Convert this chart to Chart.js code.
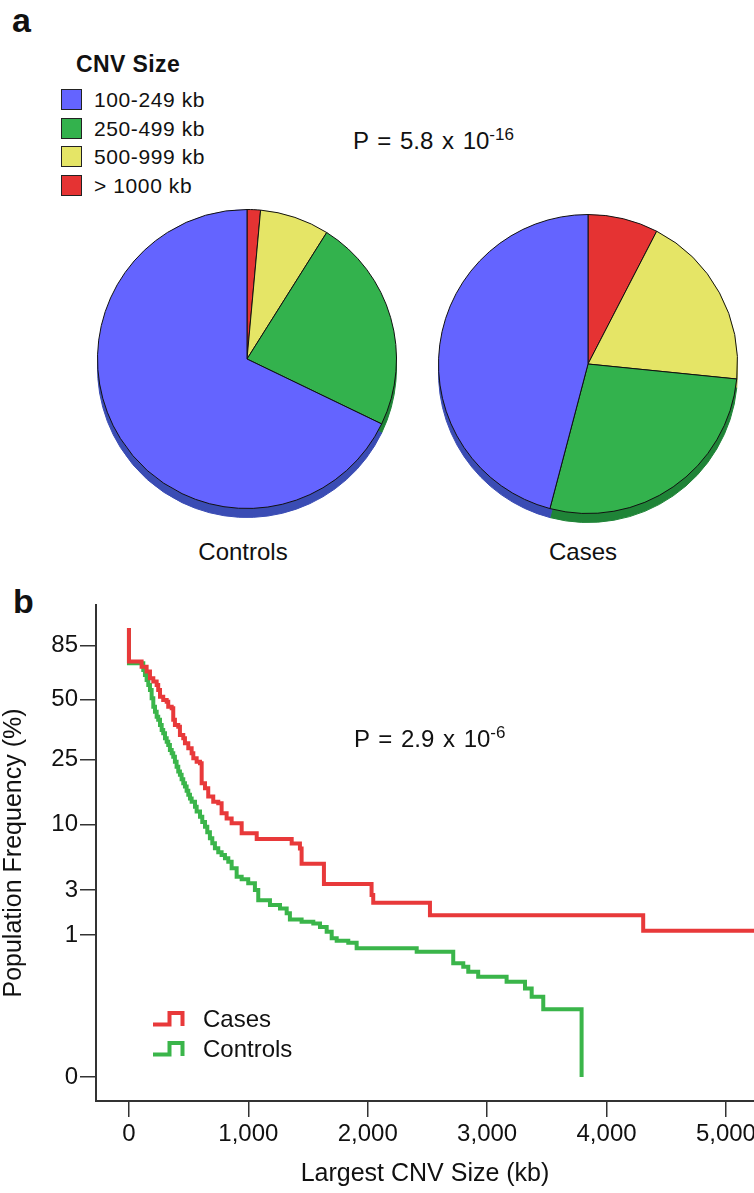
<!DOCTYPE html>
<html lang="en">
<head>
  <meta charset="UTF-8" />
  <title>CNV Size</title>
  <script src="https://cdn.jsdelivr.net/npm/chart.js"></script>
  <style>
    body {
      margin: 0;
      width: 754px;
      height: 1193px;
      position: relative;
      overflow: hidden;
      background: #fff;
      color: #111;
      font-family: "Liberation Sans", Arial, sans-serif;
    }
    .abs { position: absolute; line-height: 1; white-space: nowrap; }
    .panel { font-weight: bold; font-size: 34px; }
    .ptext { font-size: 24px; word-spacing: 2px; }
    .ptext sup { font-size: 17px; position: relative; top: -9px; vertical-align: baseline; word-spacing: 0; }
    .pie-label { font-size: 24px; width: 200px; text-align: center; }
    #size-legend .title { font-weight: bold; font-size: 23px; letter-spacing: 0.4px; margin: 0 0 13px 15px; }
    #size-legend .row { display: flex; align-items: center; height: 21px; margin-bottom: 7.6px; }
    #size-legend .box { width: 21px; height: 21px; box-sizing: border-box; border: 1px solid #222; }
    #size-legend .lbl { font-size: 21px; letter-spacing: 0.6px; margin-left: 12px; }
    .line-key { display: flex; align-items: center; height: 24px; font-size: 24px; }
    .line-key svg { margin-right: 18px; }
    canvas { position: absolute; }
  </style>
</head>
<body>
  <div class="abs panel" style="left:12px; top:3px;">a</div>
  <div class="abs panel" style="left:13px; top:584px;">b</div>

  <div id="size-legend" class="abs" style="left:61px; top:53px;">
    <div class="title">CNV Size</div>
  </div>

  <div class="abs ptext" style="left:353px; top:129px;">P = 5.8 x 10<sup>-16</sup></div>
  <canvas id="pie-controls" width="300" height="312" style="left:97px; top:209px;"></canvas>
  <canvas id="pie-cases" width="300" height="312" style="left:438px; top:214px;"></canvas>
  <div class="abs pie-label" style="left:143px; top:540px;">Controls</div>
  <div class="abs pie-label" style="left:483px; top:540px;">Cases</div>

  <canvas id="freq" width="754" height="603" style="left:0; top:590px;"></canvas>
  <div class="abs ptext" style="left:354px; top:727px;">P = 2.9 x 10<sup>-6</sup></div>
  <div id="line-legend" class="abs" style="left:152px; top:1007px;"></div>

  <script>
    // panel a: share of largest CNV per size bin (%), clockwise from 12 o'clock
    const sizeBins = ['> 1000 kb', '500-999 kb', '250-499 kb', '100-249 kb'];
    const controlsShare = [1.45, 7.5, 23.2, 67.85];
    const casesShare = [7.6, 19.0, 27.5, 45.9];

    // panel b: step curves, largest CNV size (kb) vs population frequency (%)
    const casesKb = [0, 0, 106, 148, 176, 204, 232, 245, 260, 287, 316, 329, 358, 371, 385, 413, 427, 455,
      469, 497, 525, 539, 567, 595, 609, 637, 664, 706, 748, 776, 818, 860, 944, 1070, 1363, 1432, 1446,
      1633, 2032, 2046, 2521, 4307, 5235];
    const casesFreq = [100, 73.2, 69.7, 66.4, 62.1, 60.1, 58.1, 55.2, 51.4, 49.7, 48.8, 46.2, 45.5, 40.0,
      37.8, 37.0, 33.6, 32.4, 30.5, 28.7, 27.0, 25.4, 24.3, 23.8, 18.3, 17.1, 15.2, 14.1, 13.8, 11.9, 11.0,
      10.2, 8.7, 7.9, 7.3, 6.7, 5.1, 3.41, 2.7, 2.27, 1.69, 1.13, 1.13];

    const controlsKb = [0, 0, 120, 134, 148, 162, 176, 190, 204, 218, 232, 245, 260, 274, 287, 302, 316,
      329, 343, 358, 371, 385, 399, 413, 427, 441, 455, 469, 483, 497, 511, 525, 553, 567, 595, 614, 637,
      656, 678, 698, 720, 748, 776, 804, 832, 860, 902, 944, 999, 1055, 1083, 1181, 1265, 1321, 1348,
      1446, 1544, 1600, 1656, 1698, 1740, 1837, 1907, 2410, 2716, 2800, 2842, 2925, 3163, 3317, 3373,
      3470, 3791];
    const controlsFreq = [100, 72.0, 67.5, 64.2, 61.1, 58.1, 55.2, 50.6, 46.2, 43.8, 41.4, 40.0, 37.8,
      35.7, 34.3, 32.4, 31.1, 29.9, 28.1, 27.0, 25.9, 24.3, 22.8, 21.4, 20.5, 19.3, 18.3, 17.5, 16.5, 15.6,
      14.8, 14.1, 13.1, 12.2, 11.3, 10.4, 9.65, 8.82, 7.99, 7.34, 6.73, 6.27, 5.97, 5.63, 5.28, 4.67, 3.96,
      3.76, 3.46, 3.01, 2.4, 2.15, 1.99, 1.77, 1.52, 1.43, 1.37, 1.25, 1.10, 0.91, 0.849, 0.80, 0.675,
      0.606, 0.411, 0.364, 0.302, 0.249, 0.203, 0.152, 0.102, 0.0517, 0];

    const xTicks = [0, 1000, 2000, 3000, 4000, 5000];
    const yTicks = [0, 1, 3, 10, 25, 50, 85];

    const pieColors = ['#e53333', '#e5e566', '#33b24d', '#6464ff'];
    const pieShade = ['#9e2323', '#a6a63e', '#1f8437', '#3a4cb4'];
    const redLine = '#e8393a';
    const greenLine = '#3ab54a';

    Chart.defaults.font.family = '"Liberation Sans", Arial, sans-serif';
    Chart.defaults.color = '#111';

    // html legend for the pies, same order as the printed figure
    const sizeLegend = document.getElementById('size-legend');
    sizeBins.slice().reverse().forEach((name, i) => {
      const row = document.createElement('div');
      row.className = 'row';
      row.innerHTML = '<span class="box" style="background:' + pieColors[pieColors.length - 1 - i] +
        '"></span><span class="lbl">' + name + '</span>';
      sizeLegend.appendChild(row);
    });

    // flat shadow under each slice to get the tilted-disc look
    const pieShadow = {
      id: 'pieShadow',
      beforeDatasetsDraw(chart, args, opts) {
        const ctx = chart.ctx;
        ctx.save();
        ctx.translate(0, opts.depth);
        chart.getDatasetMeta(0).data.forEach((arc, i) => {
          const o = arc.options;
          arc.options = Object.assign({}, o, { backgroundColor: opts.colors[i], borderColor: opts.colors[i] });
          arc.draw(ctx);
          arc.options = o;
        });
        ctx.restore();
      }
    };

    function makePie(id, values) {
      return new Chart(document.getElementById(id), {
        type: 'pie',
        data: {
          labels: sizeBins,
          datasets: [{
            data: values,
            backgroundColor: pieColors,
            borderColor: '#111',
            borderWidth: 1
          }]
        },
        options: {
          responsive: false,
          animation: false,
          layout: { padding: { bottom: 12 } },
          plugins: {
            legend: { display: false },
            tooltip: { enabled: false },
            pieShadow: { depth: 9, colors: pieShade }
          }
        },
        plugins: [pieShadow]
      });
    }

    makePie('pie-controls', controlsShare);
    makePie('pie-cases', casesShare);

    // y axis of panel b is spaced by the fourth root of the frequency
    class FourthRootScale extends Chart.LinearScale {
      static id = 'fourthroot';
      static defaults = {};
      fwd(v) { return Math.sign(v) * Math.pow(Math.abs(v), 0.25); }
      getPixelForValue(value) {
        const a = this.fwd(this.min), b = this.fwd(this.max);
        return this.getPixelForDecimal((this.fwd(value) - a) / (b - a));
      }
      getValueForPixel(pixel) {
        const a = this.fwd(this.min), b = this.fwd(this.max);
        const t = a + this.getDecimalForPixel(pixel) * (b - a);
        return Math.sign(t) * Math.pow(Math.abs(t), 4);
      }
    }
    Chart.register(FourthRootScale);

    const axisGrid = { drawOnChartArea: false, tickLength: 16, color: '#333', lineWidth: 1.5 };
    const axisBorder = { display: true, color: '#333', width: 2 };

    new Chart(document.getElementById('freq'), {
      type: 'line',
      data: {
        datasets: [
          {
            label: 'Cases',
            data: casesKb.map((x, i) => ({ x: x, y: casesFreq[i] })),
            borderColor: redLine,
            borderWidth: 4,
            stepped: true,
            pointRadius: 0,
            fill: false
          },
          {
            label: 'Controls',
            data: controlsKb.map((x, i) => ({ x: x, y: controlsFreq[i] })),
            borderColor: greenLine,
            borderWidth: 4,
            stepped: true,
            pointRadius: 0,
            fill: false
          }
        ]
      },
      options: {
        responsive: false,
        animation: false,
        layout: { padding: { top: 15, right: 0, bottom: 0, left: 0 } },
        plugins: {
          legend: { display: false },
          tooltip: { enabled: false }
        },
        scales: {
          x: {
            type: 'linear',
            min: -276,
            max: 5235,
            afterBuildTicks: s => { s.ticks = xTicks.map(v => ({ value: v })); },
            afterFit: s => { s.height = 92; s.paddingLeft = 0; s.paddingRight = 0; },
            grid: axisGrid,
            border: axisBorder,
            ticks: {
              font: { size: 24 },
              color: '#111',
              padding: 3,
              maxRotation: 0,
              autoSkip: false,
              callback: v => v.toLocaleString('en-US')
            },
            title: {
              display: true,
              text: 'Largest CNV Size (kb)',
              font: { size: 25 },
              color: '#111',
              padding: { top: 0, bottom: 4 }
            }
          },
          y: {
            type: 'fourthroot',
            min: -0.0008,
            max: 122,
            bounds: 'data',
            afterBuildTicks: s => { s.ticks = yTicks.map(v => ({ value: v })); },
            afterFit: s => { s.width = 96; s.paddingTop = 0; s.paddingBottom = 0; },
            grid: axisGrid,
            border: axisBorder,
            ticks: {
              font: { size: 24 },
              color: '#111',
              padding: 2,
              autoSkip: false,
              callback: v => String(v)
            },
            title: {
              display: true,
              text: 'Population Frequency (%)',
              font: { size: 25, lineHeight: 1.1 },
              color: '#111',
              padding: { top: 0, bottom: 0 }
            }
          }
        }
      }
    });

    // step-shaped keys for the two curves
    const lineLegend = document.getElementById('line-legend');
    [['Cases', redLine], ['Controls', greenLine]].forEach(([name, col], i) => {
      const row = document.createElement('div');
      row.className = 'line-key';
      row.style.marginBottom = i === 0 ? '6px' : '0';
      row.innerHTML = '<svg width="33" height="16" viewBox="0 0 33 16">' +
        '<polyline points="1,13.5 17.5,13.5 17.5,2 30.5,2 30.5,15" fill="none" stroke="' + col +
        '" stroke-width="4" stroke-linecap="butt" stroke-linejoin="miter"/></svg><span>' + name + '</span>';
      lineLegend.appendChild(row);
    });
  </script>
</body>
</html>
